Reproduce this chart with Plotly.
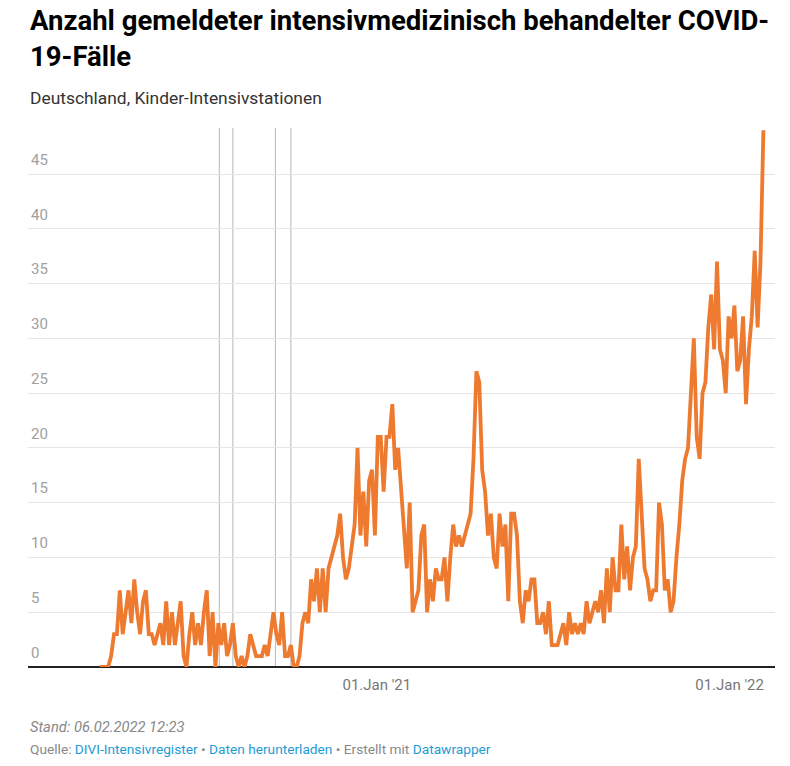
import pandas as pd
import plotly.graph_objects as go

# daily series, one value every 3 days
start_date = "2020-03-20"
step_days = 3
cases = [
    0, 0, 0, 0, 1, 3, 3, 7, 3, 5,
    7, 4, 8, 5, 3, 6, 7, 3, 3, 2,
    3, 4, 2, 6, 2, 5, 2, 4, 6, 1,
    0, 3, 5, 2, 4, 2, 5, 7, 1, 5,
    0, 4, 2, 4, 1, 2, 4, 1, 0, 1,
    0, 1, 3, 2, 1, 1, 1, 2, 1, 3,
    5, 3, 2, 5, 1, 1, 2, 0, 0, 1,
    4, 5, 4, 8, 6, 9, 5, 9, 5, 9,
    10, 11, 12, 14, 10, 8, 9, 11, 13, 20,
    12, 16, 11, 17, 18, 12, 21, 21, 16, 21,
    21, 24, 18, 20, 16, 12, 9, 15, 5, 6,
    7, 12, 13, 5, 8, 6, 9, 8, 8, 10,
    6, 10, 13, 11, 12, 11, 12, 13, 14, 19,
    27, 26, 18, 16, 12, 14, 10, 9, 14, 11,
    13, 6, 14, 14, 12, 6, 4, 7, 6, 8,
    8, 4, 4, 5, 3, 6, 2, 2, 2, 3,
    4, 2, 5, 3, 4, 3, 4, 3, 6, 4,
    5, 6, 5, 7, 4, 9, 5, 10, 7, 7,
    13, 8, 11, 7, 10, 11, 19, 14, 9, 8,
    6, 7, 7, 15, 13, 7, 8, 5, 6, 10,
    13, 17, 19, 20, 25, 30, 21, 19, 25, 26,
    31, 34, 29, 37, 29, 28, 25, 32, 30, 33,
    27, 28, 32, 24, 29, 32, 38, 31, 37, 49,
]
dates = pd.date_range(start_date, periods=len(cases), freq=f"{step_days}D")

marker_dates = ["2020-07-22", "2020-08-05", "2020-09-18", "2020-10-04"]
y_ticks = [0, 5, 10, 15, 20, 25, 30, 35, 40, 45]
x_tick_dates = ["2021-01-01", "2022-01-01"]
x_tick_labels = ["01.Jan '21", "01.Jan '22"]

FONT = "Roboto, 'Noto Sans', sans-serif"
LINK = "#1d9bd6"
GREY = "#888888"

fig = go.Figure()
fig.add_trace(go.Scatter(
    x=dates,
    y=cases,
    mode="lines",
    line=dict(color="#ee7a30", width=3.8),
    hoverinfo="skip",
))

for d in marker_dates:
    fig.add_shape(type="line", xref="x", yref="paper", x0=d, x1=d, y0=0, y1=1,
                  line=dict(color="#b8b8b8", width=1), layer="below")


def py(px):
    # pixel row -> paper y (plot spans 128..667)
    return (667 - px) / 539


annotations = [
    dict(text="<b>Anzahl gemeldeter intensivmedizinisch behandelter COVID-<br>19-Fälle</b>",
         x=0, y=py(2), yanchor="top", font=dict(size=27.5, color="#000000")),
    dict(text="Deutschland, Kinder-Intensivstationen",
         x=0, y=py(98), yanchor="middle", font=dict(size=17.4, color="#333333")),
    dict(text="<i>Stand: 06.02.2022 12:23</i>",
         x=0, y=py(727), yanchor="middle", font=dict(size=14.7, color=GREY)),
    dict(text=("Quelle: <span style='color:%s'>DIVI-Intensivregister</span> • "
               "<span style='color:%s'>Daten herunterladen</span> • Erstellt mit "
               "<span style='color:%s'>Datawrapper</span>") % (LINK, LINK, LINK),
         x=0, y=py(749), yanchor="middle", font=dict(size=13.7, color=GREY)),
]
for a in annotations:
    a.update(xref="paper", yref="paper", xanchor="left", showarrow=False, align="left")

fig.update_layout(
    width=790,
    height=766,
    margin=dict(l=28, r=15, t=128, b=99),
    paper_bgcolor="white",
    plot_bgcolor="white",
    font=dict(family=FONT),
    showlegend=False,
    annotations=annotations,
)
fig.update_xaxes(
    range=["2020-01-06", "2022-02-17"],
    tickvals=x_tick_dates,
    ticktext=x_tick_labels,
    tickfont=dict(size=15, color="#777777"),
    ticklabelstandoff=7,
    showgrid=False,
    zeroline=False,
    showline=False,
    ticks="",
)
fig.update_yaxes(
    range=[0, 49.2],
    tickvals=y_ticks,
    ticklabelposition="inside top",
    ticklabelshift=-4,
    tickfont=dict(size=15, color="#a0a0a0"),
    gridcolor="#e5e5e5",
    gridwidth=1,
    zeroline=True,
    zerolinecolor="#222222",
    zerolinewidth=1.5,
    showline=False,
    ticks="",
)

fig.write_html("out.html", config={"displayModeBar": False},
               post_script="document.body.style.margin='0';document.body.style.overflow='hidden';")
